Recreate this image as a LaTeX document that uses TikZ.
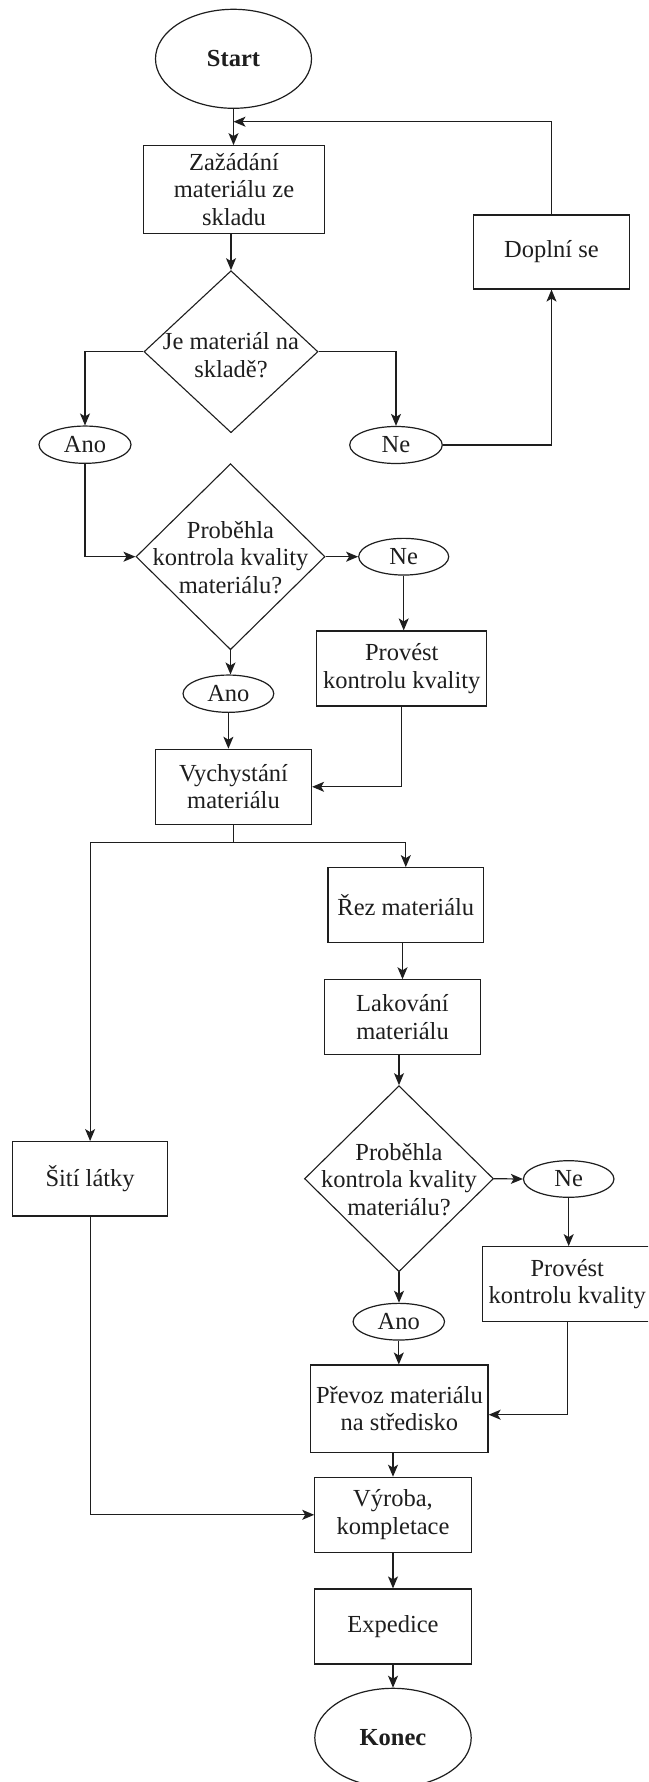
\documentclass[tikz,border=0pt]{standalone}
\usepackage{fontspec}
\setmainfont{Liberation Serif}
\usetikzlibrary{shapes.geometric,arrows.meta}
\definecolor{ink}{HTML}{1E1E1E}
\begin{document}
\begin{tikzpicture}[x=1pt,y=-1pt,
  every node/.style={font=\fontsize{24.5}{27.5}\selectfont, text=ink, inner sep=0pt},
  proc/.style={draw=ink, line width=1.2pt, rectangle, align=center},
  term/.style={draw=ink, line width=1.2pt, ellipse},
  choice/.style={draw=ink, line width=1.1pt, diamond},
  qtext/.style={align=center},
  link/.style={draw=ink, line width=1.2pt},
  arr/.style={link, -{Stealth[length=12pt,width=10pt,inset=3pt]}}
]
\useasboundingbox (0,0) rectangle (648,1782);
\fill[white] (0,0) rectangle (648,1782);
\begin{scope}
\clip (0,0) rectangle (648,1782);

% nodes
\node[term, minimum width=156, minimum height=99] (start) at (233.5,58.8) {\bfseries Start};
\node[proc, minimum width=181.5, minimum height=87.6] (zadost) at (234,189.5) {Zažádání\\materiálu ze\\skladu};
\node[proc, minimum width=156, minimum height=74] (doplni) at (551.5,252) {Doplní se};

\node[choice, minimum width=174, minimum height=162] (d1) at (231,351.7) {};
\node[qtext] (d1t) at (231,355) {Je materiál na\\skladě?};
\node[term, minimum width=92, minimum height=37.3] (ano1) at (85,444.7) {Ano};
\node[term, minimum width=92.6, minimum height=37] (ne1) at (396,445) {Ne};

\node[choice, minimum width=189, minimum height=186] (d2) at (230.5,556.7) {};
\node[qtext] (d2t) at (230.5,557.5) {Proběhla\\kontrola kvality\\materiálu?};
\node[term, minimum width=90, minimum height=36.7] (ne2) at (403.7,556.7) {Ne};
\node[proc, minimum width=170, minimum height=75] (prov1) at (401.8,668.5) {Provést\\kontrolu kvality};
\node[term, minimum width=90.7, minimum height=37.3] (ano2) at (228.4,693.7) {Ano};
\node[proc, minimum width=156, minimum height=75] (vych) at (233.5,786.8) {Vychystání\\materiálu};

\node[proc, minimum width=155.5, minimum height=75] (rez) at (405.8,905.2) {Řez materiálu};
\node[proc, minimum width=155.5, minimum height=74.3] (lak) at (402.5,1017) {Lakování\\materiálu};
\node[proc, minimum width=155.5, minimum height=74.3] (siti) at (90.1,1178.8) {Šití látky};

\node[choice, minimum width=189, minimum height=186] (d3) at (399,1178.7) {};
\node[qtext] (d3t) at (399,1179.5) {Proběhla\\kontrola kvality\\materiálu?};
\node[term, minimum width=90.5, minimum height=36.6] (ne3) at (568.7,1179) {Ne};
\node[proc, minimum width=170, minimum height=75] (prov2) at (567.3,1284.2) {Provést\\kontrolu kvality};
\node[term, minimum width=91.4, minimum height=36.7] (ano3) at (398.8,1321.7) {Ano};
\node[proc, minimum width=177.3, minimum height=87.3] (prev) at (399.4,1408.7) {Převoz materiálu\\na středisko};
\node[proc, minimum width=156.4, minimum height=75] (vyr) at (393,1514.8) {Výroba,\\kompletace};
\node[proc, minimum width=156.4, minimum height=75] (exped) at (393,1626.5) {Expedice};
\node[term, minimum width=156.4, minimum height=99] (konec) at (393,1737.8) {\bfseries Konec};

% junction points
\coordinate (loopin) at (233.5,121.7);
\coordinate (split) at (233.5,842.7);

% connectors
\draw[arr] (start.south) -- (start.south |- zadost.north);
\draw[arr] (doplni.north) |- (loopin);
\draw[arr] (zadost.south -| d1.north) -- (d1.north);
\draw[arr] (d1.west) -| (ano1.north);
\draw[arr] (d1.east) -| (ne1.north);
\draw[arr] (ne1.east) -| (doplni.south);
\draw[arr] (ano1.south) |- (d2.west);
\draw[arr] (d2.east) -- (ne2.west);
\draw[arr] (ne2.south) -- (ne2.south |- prov1.north);
\draw[arr] (d2.south) -- (d2.south |- ano2.north);
\draw[arr] (ano2.south) -- (ano2.south |- vych.north);
\draw[arr] (prov1.south) |- (vych.east);
\draw[link] (vych.south) -- (split);
\draw[arr] (split) -| (siti.north);
\draw[arr] (split) -| (rez.north);
\draw[arr] (rez.south -| lak.north) -- (lak.north);
\draw[arr] (lak.south -| d3.north) -- (d3.north);
\draw[arr] (d3.east) -- (ne3.west);
\draw[arr] (ne3.south) -- (ne3.south |- prov2.north);
\draw[arr] (d3.south) -- (d3.south |- ano3.north);
\draw[arr] (ano3.south) -- (ano3.south |- prev.north);
\draw[arr] (prov2.south) |- ([yshift=-6]prev.east);
\draw[arr] (prev.south -| vyr.north) -- (vyr.north);
\draw[arr] (siti.south) |- (vyr.west);
\draw[arr] (vyr.south) -- (exped.north);
\draw[arr] (exped.south) -- (konec.north);
\end{scope}
\end{tikzpicture}
\end{document}
